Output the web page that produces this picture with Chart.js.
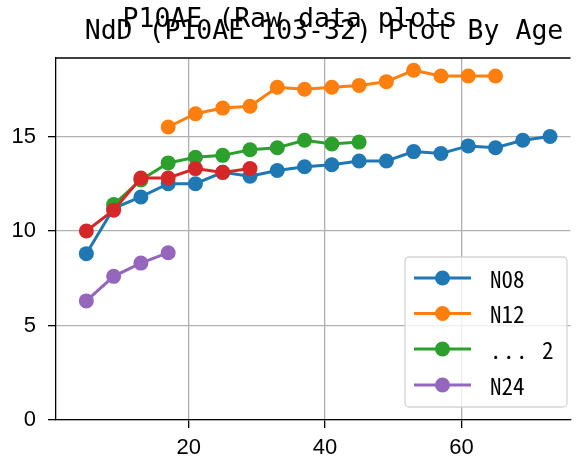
<!DOCTYPE html>
<html>
<head>
<meta charset="utf-8">
<script src="https://cdn.jsdelivr.net/npm/chart.js@4"></script>
<style>
  html, body { margin: 0; padding: 0; background: #fff; overflow: hidden; }
  #wrap { width: 578px; height: 463px; }
</style>
</head>
<body>
<div id="wrap"><canvas id="ageChart" width="578" height="463"></canvas></div>
<script>
const TITLE_FONT = '"DejaVu Sans Mono", monospace';
const LEGEND_FONT = '"Noto Sans Mono CJK JP", "DejaVu Sans Mono", monospace';
const TICK_FONT = '"Liberation Sans", Arial, sans-serif';

// ages (x values), one list per series
const agesN08 = [5, 9, 13, 17, 21, 25, 29, 33, 37, 41, 45, 49, 53, 57, 61, 65, 69, 73];
const valsN08 = [8.8, 11.2, 11.8, 12.5, 12.5, 13.1, 12.9, 13.2, 13.4, 13.5, 13.7, 13.7, 14.2, 14.1, 14.5, 14.4, 14.8, 15.0];

const agesN12 = [17, 21, 25, 29, 33, 37, 41, 45, 49, 53, 57, 61, 65];
const valsN12 = [15.5, 16.2, 16.5, 16.6, 17.6, 17.5, 17.6, 17.7, 17.9, 18.5, 18.2, 18.2, 18.2];

const agesG = [9, 13, 17, 21, 25, 29, 33, 37, 41, 45];
const valsG = [11.4, 12.7, 13.6, 13.9, 14.0, 14.3, 14.4, 14.8, 14.6, 14.7];

const agesRed = [5, 9, 13, 17, 21, 25, 29];
const valsRed = [10.0, 11.1, 12.8, 12.8, 13.3, 13.1, 13.3];

const agesN24 = [5, 9, 13, 17];
const valsN24 = [6.3, 7.6, 8.3, 8.85];

const seriesLabels = ["N08", "N12", "... 2", "", "N24"];
const seriesColors = ["#1f77b4", "#ff7f0e", "#2ca02c", "#d62728", "#9467bd"];
const xTicks = [20, 40, 60];
const yTicks = [0, 5, 10, 15];
const mainTitle = "NdD (P10AE 103-32) Plot By Age";
const supTitle = "P10AE (Raw data plots";

const allAges = [agesN08, agesN12, agesG, agesRed, agesN24];
const allVals = [valsN08, valsN12, valsG, valsRed, valsN24];

const datasets = allVals.map((vals, i) => ({
  label: seriesLabels[i],
  data: vals.map((v, j) => ({ x: allAges[i][j], y: v })),
  borderColor: seriesColors[i],
  backgroundColor: seriesColors[i],
  borderWidth: 3,
  pointRadius: 7.5,
  pointHoverRadius: 7.5,
  pointBorderWidth: 0,
  order: 5 - i,
}));

// titles, top spine and in-axes legend
const decor = {
  id: "decor",
  afterDraw(chart) {
    const c = chart.ctx;
    const a = chart.chartArea;
    c.save();
    c.strokeStyle = "#000";
    c.lineWidth = 1.3;
    c.beginPath();
    c.moveTo(a.left, a.top);
    c.lineTo(a.right, a.top);
    c.stroke();

    c.fillStyle = "#000";
    c.font = "26.5px " + TITLE_FONT;
    c.textAlign = "center";
    c.textBaseline = "alphabetic";
    c.fillText(supTitle, 290, 27);
    c.fillText(mainTitle, 324, 39);

    // legend box
    const bx = 405, by = 257, bw = 162, bh = 150;
    c.fillStyle = "rgba(255,255,255,0.8)";
    c.strokeStyle = "rgba(204,204,204,0.8)";
    c.lineWidth = 1.3;
    c.beginPath();
    c.roundRect(bx, by, bw, bh, 4);
    c.fill();
    c.stroke();

    const rows = [0, 1, 2, 4];
    const ys = [278, 313.5, 349, 385];
    c.font = "23px " + LEGEND_FONT;
    c.textAlign = "left";
    c.textBaseline = "middle";
    rows.forEach((idx, k) => {
      const y = ys[k];
      c.strokeStyle = seriesColors[idx];
      c.lineWidth = 3;
      c.beginPath();
      c.moveTo(414, y);
      c.lineTo(471, y);
      c.stroke();
      c.fillStyle = seriesColors[idx];
      c.beginPath();
      c.arc(442.5, y, 7.5, 0, Math.PI * 2);
      c.fill();
      c.fillStyle = "#000";
      c.letterSpacing = idx === 2 ? "1.5px" : "0px";
      c.fillText(seriesLabels[idx], 490, y + 1);
    });
    c.letterSpacing = "0px";
    c.restore();
  },
};

const config = {
  type: "line",
  data: { datasets },
  options: {
    responsive: false,
    animation: false,
    events: [],
    layout: { padding: { top: 58, left: 0, right: 0, bottom: 0 } },
    plugins: {
      legend: { display: false },
      title: { display: false },
      tooltip: { enabled: false },
    },
    scales: {
      x: {
        type: "linear",
        min: 0.55,
        max: 76.0,
        afterBuildTicks: (s) => { s.ticks = xTicks.map((v) => ({ value: v })); },
        afterFit: (s) => { s.height = 43; },
        grid: { color: "#b0b0b0", lineWidth: 1.3, tickColor: "#000", tickLength: 8 },
        border: { color: "#000", width: 1.3 },
        ticks: { color: "#000", font: { family: TICK_FONT, size: 22 }, padding: 7, maxRotation: 0 },
      },
      y: {
        min: 0,
        max: 19.15,
        afterBuildTicks: (s) => { s.ticks = yTicks.map((v) => ({ value: v })); },
        afterFit: (s) => { s.width = 56; },
        grid: { color: "#b0b0b0", lineWidth: 1.3, tickColor: "#000", tickLength: 8 },
        border: { color: "#000", width: 1.3 },
        ticks: { color: "#000", font: { family: TICK_FONT, size: 22 }, padding: 12 },
      },
    },
  },
  plugins: [decor],
};

const myChart = new Chart(document.getElementById("ageChart").getContext("2d"), config);
</script>
</body>
</html>
